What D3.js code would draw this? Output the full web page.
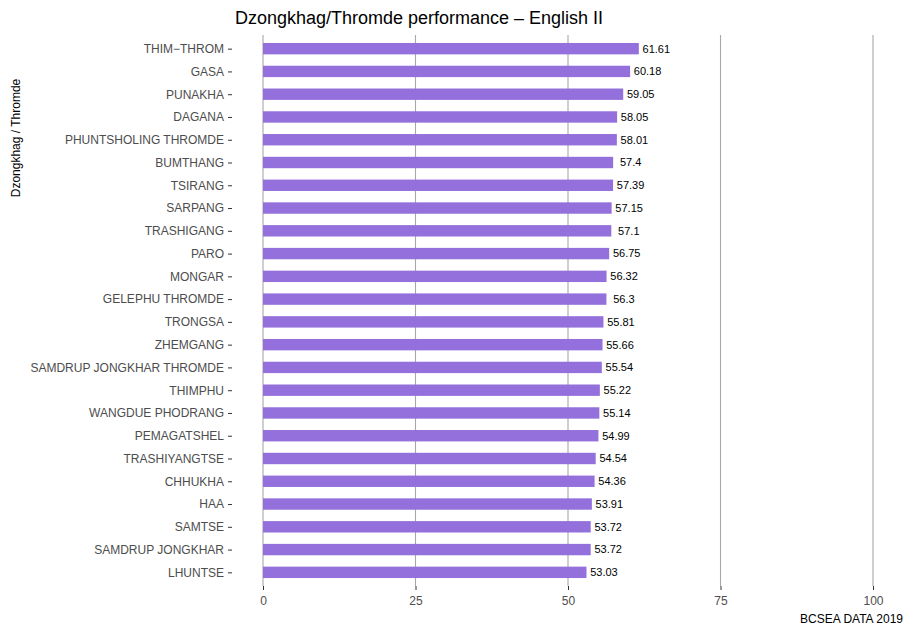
<!DOCTYPE html>
<html><head><meta charset="utf-8">
<script src="https://cdn.jsdelivr.net/npm/d3@7"></script>
<style>body{margin:0;background:#fff;font-family:"Liberation Sans",Arial,sans-serif;}</style>
</head><body>
<svg id="c" width="905" height="625"></svg>
<script>
const categories = ["THIM\u2212THROM","GASA","PUNAKHA","DAGANA","PHUNTSHOLING THROMDE","BUMTHANG","TSIRANG","SARPANG","TRASHIGANG","PARO","MONGAR","GELEPHU THROMDE","TRONGSA","ZHEMGANG","SAMDRUP JONGKHAR THROMDE","THIMPHU","WANGDUE PHODRANG","PEMAGATSHEL","TRASHIYANGTSE","CHHUKHA","HAA","SAMTSE","SAMDRUP JONGKHAR","LHUNTSE"];
const values = [61.61,60.18,59.05,58.05,58.01,57.4,57.39,57.15,57.1,56.75,56.32,56.3,55.81,55.66,55.54,55.22,55.14,54.99,54.54,54.36,53.91,53.72,53.72,53.03];
const valueLabels = ["61.61","60.18","59.05","58.05","58.01","57.4","57.39","57.15","57.1","56.75","56.32","56.3","55.81","55.66","55.54","55.22","55.14","54.99","54.54","54.36","53.91","53.72","53.72","53.03"];
const xTicks = [0,25,50,75,100];

const svg = d3.select("#c");
const pTop = 35, pBottom = 586, pLeft = 263;
const x = d3.scaleLinear().domain([0,100]).range([263,873]);
const step = (pBottom-pTop)/(categories.length-1+1.2);
const y = d3.scalePoint().domain(categories).range([pTop+0.6*step, pBottom-0.6*step]);
const bh = step*0.5;

// gridlines
svg.append("g").selectAll("line").data(xTicks).join("line")
  .attr("x1",d=>x(d)).attr("x2",d=>x(d)).attr("y1",pTop).attr("y2",pBottom)
  .attr("stroke","#a8a8a8").attr("stroke-width",1.1);

// bars
svg.append("g").selectAll("rect").data(values).join("rect")
  .attr("x",x(0)).attr("y",(d,i)=>y(categories[i])-bh/2)
  .attr("width",d=>x(d)-x(0)).attr("height",bh).attr("fill","#9370DB");

// value labels
svg.append("g").selectAll("text").data(values).join("text")
  .attr("x",d=>x(d)+17.5).attr("y",(d,i)=>y(categories[i]))
  .attr("text-anchor","middle")
  .attr("dy","0.35em").attr("font-size",11).attr("fill","#000")
  .text((d,i)=>valueLabels[i]);

// x axis
const xa = d3.axisBottom(x).tickValues(xTicks).tickSize(4).tickPadding(6);
const gx = svg.append("g").attr("transform",`translate(0,${pBottom})`).call(xa);
gx.select(".domain").remove();
gx.selectAll("line").attr("stroke","#333");
gx.selectAll("text").attr("font-size",12).attr("fill","#4d4d4d").attr("font-family","Liberation Sans, Arial, sans-serif");

// y axis
const ya = d3.axisLeft(y).tickSize(4).tickPadding(4);
const gy = svg.append("g").attr("transform",`translate(${pLeft-31},0)`).call(ya);
gy.select(".domain").remove();
gy.selectAll("line").attr("stroke","#333");
gy.selectAll("text").attr("font-size",12).attr("fill","#4d4d4d").attr("font-family","Liberation Sans, Arial, sans-serif");

// titles
svg.append("text").attr("x",419).attr("y",24).attr("text-anchor","middle")
  .attr("font-size",18).attr("fill","#000").text("Dzongkhag/Thromde performance \u2013 English II");
svg.append("text").attr("transform","translate(20,138) rotate(-90)").attr("text-anchor","middle")
  .attr("font-size",12).attr("fill","#000").text("Dzongkhag / Thromde");
svg.append("text").attr("x",903).attr("y",623).attr("text-anchor","end")
  .attr("font-size",12).attr("fill","#000").text("BCSEA DATA 2019");
</script>
</body></html>
